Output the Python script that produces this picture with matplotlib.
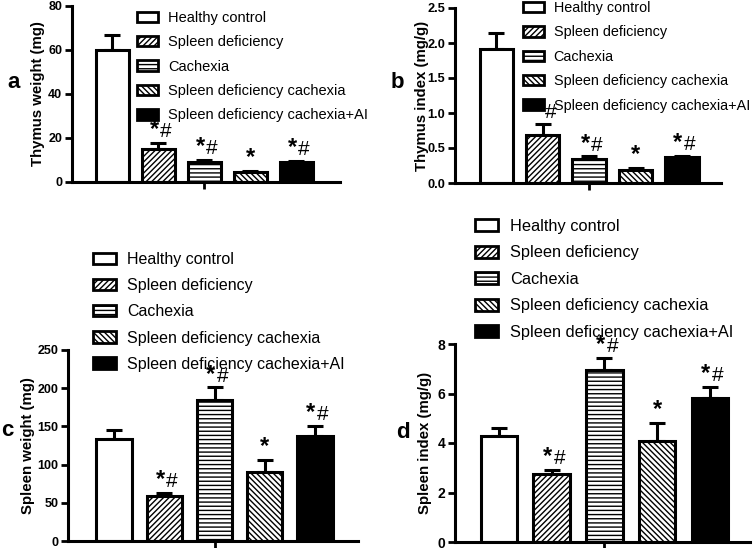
import matplotlib.pyplot as plt
from matplotlib.patches import Patch

plt.rcParams['font.family'] = ['Liberation Sans', 'DejaVu Sans']
plt.rcParams['hatch.linewidth'] = 1.0

groups = ["Healthy control", "Spleen deficiency", "Cachexia",
          "Spleen deficiency cachexia", "Spleen deficiency cachexia+AI"]
hatches = ["", "//////", "----", "\\\\\\\\\\\\", ""]
fills = ["white", "white", "white", "white", "black"]

# values and upper error (sem)
thymus_weight = [60, 14.8, 9.2, 4.6, 9.0]
thymus_weight_err = [7.0, 3.0, 1.0, 0.5, 0.5]
thymus_index = [1.92, 0.69, 0.34, 0.19, 0.37]
thymus_index_err = [0.22, 0.15, 0.04, 0.03, 0.02]
spleen_weight = [134, 59, 185, 90, 138]
spleen_weight_err = [11, 4, 16, 16, 12]
spleen_index = [4.3, 2.75, 6.95, 4.1, 5.8]
spleen_index_err = [0.3, 0.15, 0.5, 0.7, 0.45]

# significance marks: star = vs control, hash = vs other group
stars = [False, True, True, True, True]
hashes = [False, True, True, False, True]

W, H = 756, 548
fig = plt.figure(figsize=(W / 100, H / 100), dpi=100)


def px_axes(left, top, right, bottom):
    return fig.add_axes([left / W, 1 - bottom / H, (right - left) / W, (bottom - top) / H])


def panel(box, vals, errs, ymax, yticks, tick_fs, ylabel, ylab_x, xlim, width,
          leg_xy, leg_fs, leg_sp, letter_xy, letter):
    ax = px_axes(*box)
    for i in range(len(vals)):
        ax.bar(i, vals[i], width, color=fills[i], edgecolor="black", linewidth=2.2,
               hatch=hatches[i], zorder=2)
        ax.errorbar(i, vals[i], yerr=[[0], [errs[i]]], fmt="none", ecolor="black",
                    elinewidth=2.2, capsize=6, capthick=2.2, zorder=1)
        ytop = vals[i] + errs[i] + ymax * 0.01
        if stars[i] and hashes[i]:
            ax.text(i + 0.01, ytop, "*", ha="right", va="bottom", fontsize=17, fontweight="bold")
            ax.text(i + 0.04, ytop, "#", ha="left", va="bottom", fontsize=15)
        elif stars[i]:
            ax.text(i, ytop, "*", ha="center", va="bottom", fontsize=17, fontweight="bold")
    ax.set_xlim(*xlim)
    ax.set_ylim(0, ymax)
    ax.set_yticks(yticks)
    ax.set_yticklabels([str(t) for t in yticks], fontweight="bold", fontsize=tick_fs)
    ax.set_xticks([2])
    ax.set_xticklabels([""])
    ax.tick_params(axis="both", width=2, length=5, direction="out", pad=2)
    for s in ["top", "right"]:
        ax.spines[s].set_visible(False)
    for s in ["left", "bottom"]:
        ax.spines[s].set_linewidth(2.2)
    ax.set_ylabel(ylabel, fontweight="bold", fontsize=10.8)
    ax.yaxis.set_label_coords((ylab_x - box[0]) / (box[2] - box[0]), 0.5)
    ax.yaxis.label.set_va("center")
    ax.patch.set_alpha(0)

    handles = [Patch(facecolor=fills[i], edgecolor="black", linewidth=2, hatch=hatches[i])
               for i in range(len(groups))]
    ax.legend(handles, groups, loc="upper left", bbox_to_anchor=(leg_xy[0] / W, 1 - leg_xy[1] / H),
              bbox_transform=fig.transFigure, frameon=False, fontsize=leg_fs,
              handlelength=1.42, handleheight=0.72, handletextpad=0.7,
              labelspacing=leg_sp, borderaxespad=0, borderpad=0)
    fig.text(letter_xy[0] / W, 1 - letter_xy[1] / H, letter, fontsize=16, fontweight="bold",
             ha="left", va="center")
    return ax


panel((72, 6, 340, 182), thymus_weight, thymus_weight_err, 80,
      [0, 20, 40, 60, 80], 9, "Thymus weight (mg)", 38, (-0.88, 4.95), 0.72,
      (137, 11), 10.5, 0.71, (7, 82), "a")
panel((455, 8, 721, 183), thymus_index, thymus_index_err, 2.5,
      [0.0, 0.5, 1.0, 1.5, 2.0, 2.5], 9.2, "Thymus index (mg/g)", 422, (-0.89, 4.84), 0.72,
      (523, 1), 10.4, 0.72, (391, 82), "b")
panel((68, 350, 358, 541), spleen_weight, spleen_weight_err, 250,
      [0, 50, 100, 150, 200, 250], 9, "Spleen weight (mg)", 28, (-0.92, 4.86), 0.71,
      (93, 252), 11.5, 0.70, (1, 430), "c")
panel((455, 344, 750, 542), spleen_index, spleen_index_err, 8,
      [0, 2, 4, 6, 8], 10, "Spleen index (mg/g)", 425, (-0.83, 4.76), 0.69,
      (475, 219), 11.8, 0.70, (396, 432), "d")

fig.savefig("out.png", dpi=100)
